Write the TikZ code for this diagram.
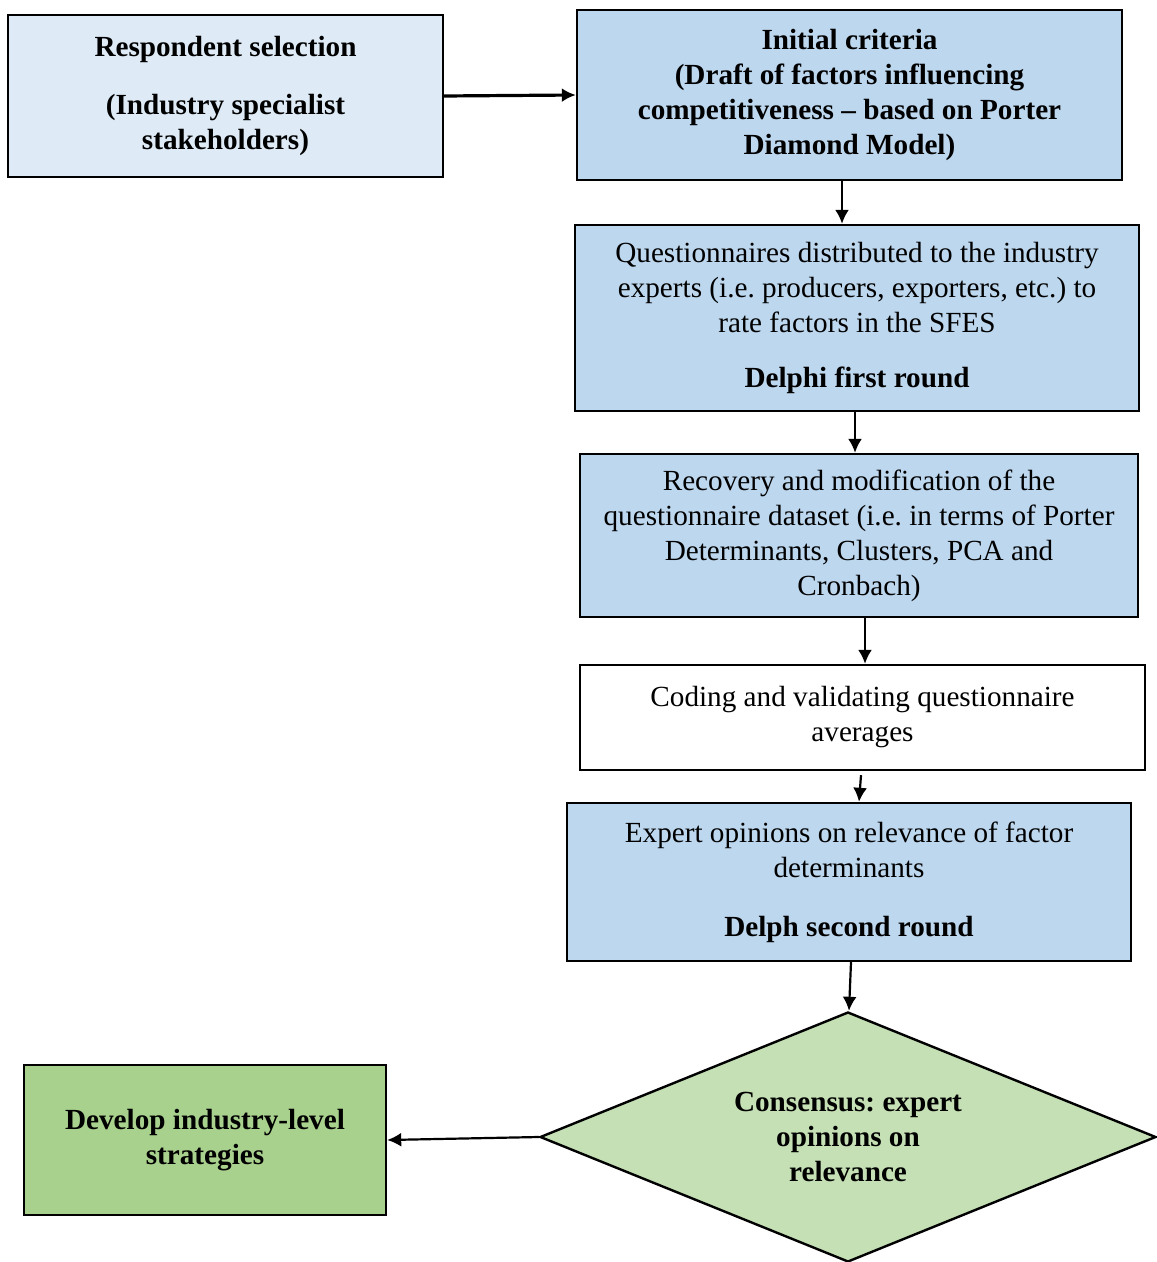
\documentclass[tikz,border=0pt]{standalone}
\usepackage{fontspec}
\setmainfont{Liberation Serif}
\usetikzlibrary{arrows.meta,shapes.geometric}
\definecolor{paleblue}{HTML}{DEEBF7}
\definecolor{midblue}{HTML}{BDD7EE}
\definecolor{palegreen}{HTML}{C5E0B4}
\definecolor{leafgreen}{HTML}{A9D18E}
\frenchspacing
\begin{document}
\begin{tikzpicture}[x=0.5pt, y=-0.5pt, line width=1.2pt,
  every node/.append style={font=\fontsize{14.6}{17.5}\selectfont, align=center},
  stage/.style={draw, rectangle, inner sep=0pt},
  arr/.style={-{Latex[length=7pt,width=7pt]}, line width=1.1pt}]
  \useasboundingbox (0,0) rectangle (1156,1262);
  \node[stage, fill=paleblue, minimum width=217.5pt, minimum height=81pt] (select) at (225.5,96)
    {\bfseries Respondent selection\\[11.5pt]\bfseries (Industry specialist\\\bfseries stakeholders)};
  \node[stage, fill=midblue, minimum width=272.5pt, minimum height=85pt] (criteria) at (849.5,95)
    {\bfseries Initial criteria\\\bfseries (Draft of factors influencing\\\bfseries competitiveness -- based on Porter\\\bfseries Diamond Model)};
  \node[stage, fill=midblue, minimum width=282pt, minimum height=93pt] (round1) at (857,318)
    {Questionnaires distributed to the industry\\experts (i.e. producers, exporters, etc.) to\\rate factors in the SFES\\[10pt]\bfseries Delphi first round};
  \node[stage, fill=midblue, minimum width=279pt, minimum height=81.5pt] (recover) at (859,535.5)
    {Recovery and modification of the\\questionnaire dataset (i.e. in terms of Porter\\Determinants, Clusters, PCA and\\Cronbach)};
  \node[stage, fill=white, minimum width=282.5pt, minimum height=52.5pt] (coding) at (862.5,717.5)
    {Coding and validating questionnaire\\averages};
  \node[stage, fill=midblue, minimum width=282pt, minimum height=79pt] (round2) at (849,882)
    {Expert opinions on relevance of factor\\determinants\\[12pt]\bfseries Delph second round};
  \node[draw, diamond, aspect=2.464, fill=palegreen, inner sep=0pt, minimum width=308pt, minimum height=125pt] (consensus) at (848,1137)
    {\bfseries Consensus: expert\\\bfseries opinions on\\\bfseries relevance};
  \node[stage, fill=leafgreen, minimum width=181pt, minimum height=75pt] (strategy) at (205,1140)
    {\bfseries Develop industry-level\\\bfseries strategies};
  \draw[arr, line width=1.6pt] (select.east) -- (criteria.west);
  \draw[arr] ([xshift=-3.75pt]criteria.south) -- ([xshift=-7.5pt]round1.north);
  \draw[arr] ([xshift=-1pt]round1.south) -- ([xshift=-2pt]recover.north);
  \draw[arr] ([xshift=3pt]recover.south) -- ([xshift=1.25pt]coding.north);
  \draw[arr] ([xshift=-0.75pt,yshift=-2pt]coding.south) -- ([xshift=5pt]round2.north);
  \draw[arr] ([xshift=1pt]round2.south) -- ([xshift=0.5pt]consensus.north);
  \draw[arr] (consensus.west) -- (strategy.east);
\end{tikzpicture}
\end{document}
